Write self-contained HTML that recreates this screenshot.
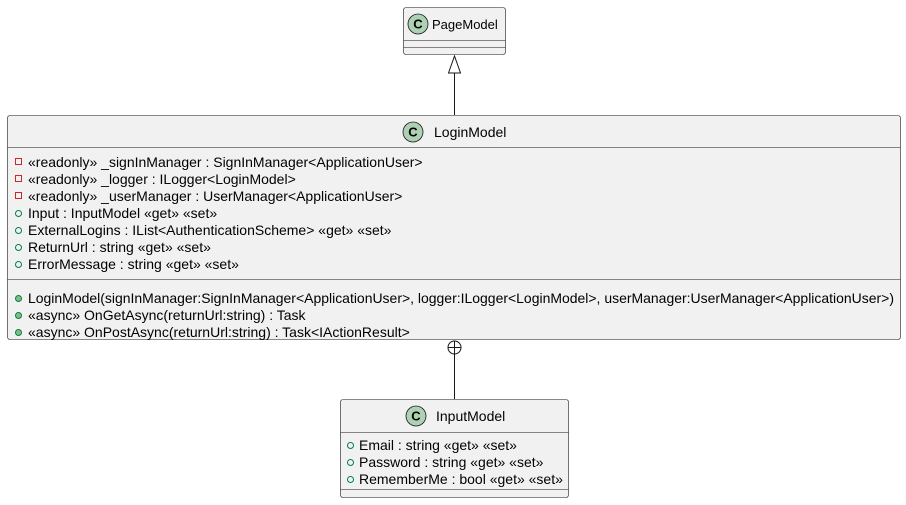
<!DOCTYPE html>
<html><head><meta charset="utf-8"><style>html,body{margin:0;padding:0;background:#fff;}svg{display:block}</style></head>
<body>
<svg width="906" height="505" xmlns="http://www.w3.org/2000/svg" font-family="Liberation Sans, sans-serif" font-size="14" fill="#000">
<!-- PageModel -->
<rect x="403.5" y="7.5" width="102" height="47" rx="2.5" fill="#f1f1f1" stroke="#181818" stroke-width="0.6"/>
<line x1="403.5" y1="40.5" x2="505.5" y2="40.5" stroke="#181818" stroke-width="0.6"/>
<line x1="403.5" y1="47.5" x2="505.5" y2="47.5" stroke="#181818" stroke-width="0.6"/>
<circle cx="418" cy="24" r="10" fill="#add1b2" stroke="#181818" stroke-width="0.8"/>
<text x="418" y="28.5" text-anchor="middle" font-weight="bold" font-size="13">C</text>
<text x="432" y="29" font-size="13">PageModel</text>
<!-- inheritance -->
<line x1="454.5" y1="73" x2="454.5" y2="115" stroke="#181818"/>
<polygon points="454.5,56 448.5,73 460.5,73" fill="#fff" stroke="#181818"/>
<!-- LoginModel -->
<rect x="7.5" y="115.5" width="893" height="224" rx="2.5" fill="#f1f1f1" stroke="#181818" stroke-width="0.6"/>
<line x1="7.5" y1="147.5" x2="900.5" y2="147.5" stroke="#181818" stroke-width="0.6"/>
<line x1="7.5" y1="279.5" x2="900.5" y2="279.5" stroke="#181818" stroke-width="0.6"/>
<circle cx="413" cy="132" r="10" fill="#add1b2" stroke="#181818" stroke-width="0.8"/>
<text x="413" y="136.5" text-anchor="middle" font-weight="bold" font-size="13">C</text>
<text x="434" y="137">LoginModel</text>
<g fill="none" stroke="#c82930" stroke-width="1">
<rect x="15.5" y="158.5" width="6" height="6"/><rect x="15.5" y="175.5" width="6" height="6"/><rect x="15.5" y="192.5" width="6" height="6"/>
</g>
<g fill="none" stroke="#038048" stroke-width="1">
<circle cx="18.5" cy="213.5" r="3"/><circle cx="18.5" cy="230.5" r="3"/><circle cx="18.5" cy="247.5" r="3"/><circle cx="18.5" cy="264.5" r="3"/>
</g>
<g fill="#84be84" stroke="#038048" stroke-width="1">
<circle cx="18.5" cy="298.5" r="3"/><circle cx="18.5" cy="315.5" r="3"/><circle cx="18.5" cy="332.5" r="3"/>
</g>
<text x="28" y="167">«readonly» _signInManager : SignInManager&lt;ApplicationUser&gt;</text>
<text x="28" y="184">«readonly» _logger : ILogger&lt;LoginModel&gt;</text>
<text x="28" y="201">«readonly» _userManager : UserManager&lt;ApplicationUser&gt;</text>
<text x="28" y="218">Input : InputModel «get» «set»</text>
<text x="28" y="235">ExternalLogins : IList&lt;AuthenticationScheme&gt; «get» «set»</text>
<text x="28" y="252">ReturnUrl : string «get» «set»</text>
<text x="28" y="269">ErrorMessage : string «get» «set»</text>
<text x="28" y="303" textLength="866" lengthAdjust="spacingAndGlyphs">LoginModel(signInManager:SignInManager&lt;ApplicationUser&gt;, logger:ILogger&lt;LoginModel&gt;, userManager:UserManager&lt;ApplicationUser&gt;)</text>
<text x="28" y="320">«async» OnGetAsync(returnUrl:string) : Task</text>
<text x="28" y="337">«async» OnPostAsync(returnUrl:string) : Task&lt;IActionResult&gt;</text>
<!-- nested -->
<circle cx="454.5" cy="347.5" r="6.5" fill="#fff" stroke="#181818"/>
<line x1="448" y1="347.5" x2="461" y2="347.5" stroke="#181818"/>
<line x1="454.5" y1="341" x2="454.5" y2="399" stroke="#181818"/>
<!-- InputModel -->
<rect x="340.5" y="399.5" width="228" height="98" rx="2.5" fill="#f1f1f1" stroke="#181818" stroke-width="0.6"/>
<line x1="340.5" y1="432.5" x2="568.5" y2="432.5" stroke="#181818" stroke-width="0.6"/>
<line x1="340.5" y1="489.5" x2="568.5" y2="489.5" stroke="#181818" stroke-width="0.6"/>
<circle cx="416" cy="416" r="10" fill="#add1b2" stroke="#181818" stroke-width="0.8"/>
<text x="416" y="420.5" text-anchor="middle" font-weight="bold" font-size="13">C</text>
<text x="436" y="421">InputModel</text>
<g fill="none" stroke="#038048" stroke-width="1">
<circle cx="350.5" cy="445.5" r="3"/><circle cx="350.5" cy="462.5" r="3"/><circle cx="350.5" cy="479.5" r="3"/>
</g>
<text x="359" y="450">Email : string «get» «set»</text>
<text x="359" y="467">Password : string «get» «set»</text>
<text x="359" y="484">RememberMe : bool «get» «set»</text>
</svg>
</body></html>
